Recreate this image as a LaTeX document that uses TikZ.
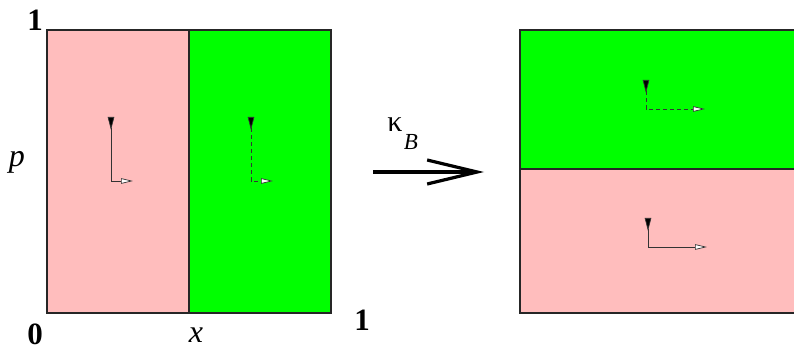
\documentclass[tikz,border=0pt]{standalone}
\usepackage{fontspec}
\setmainfont{Liberation Serif}
\usetikzlibrary{arrows.meta}
\definecolor{pinkA}{RGB}{255,189,189}
\definecolor{greenA}{RGB}{0,255,0}
\tikzset{
  region/.style={draw=black!85, line width=1.3pt},
  frame/.style={line width=0.7pt, black!80,
    {Triangle[reversed,length=13pt,width=6.5pt,fill=black]}-{Triangle[length=12pt,width=5.5pt,fill=white]}},
  dashframe/.style={frame, dash pattern=on 4pt off 3pt},
  lbl/.style={font=\fontsize{31}{31}\selectfont\bfseries, inner sep=0pt},
  ilbl/.style={font=\fontsize{32}{32}\selectfont\itshape, inner sep=0pt},
  bigarrow/.style={line width=3.5pt, -{Straight Barb[length=50pt,width=24pt,line width=3.2pt]}}
}
\begin{document}
\begin{tikzpicture}[x=1pt,y=-1pt]
\useasboundingbox (0,0) rectangle (794,352);
% left square
\fill[pinkA] (47,30) rectangle (189,313);
\fill[greenA] (189,30) rectangle (331,313);
\draw[region] (47,30) rectangle (331,313);
\draw[region] (189,30) -- (189,313);
% right rectangle (cut by the border)
\fill[greenA] (520,30) rectangle (794,169);
\fill[pinkA] (520,169) rectangle (794,313);
\draw[region] (794,30) -- (520,30) -- (520,313) -- (794,313);
\draw[region] (520,169) -- (794,169);
% frames
\coordinate (a1) at (111,117); \coordinate (a2) at (111,181); \coordinate (a3) at (133,181);
\draw[frame] (a1) -- (a2) -- (a3);
\coordinate (b1) at (251,117); \coordinate (b2) at (251,181); \coordinate (b3) at (273,181);
\draw[dashframe] (b1) -- (b2) -- (b3);
\coordinate (c1) at (646,80); \coordinate (c2) at (646,109); \coordinate (c3) at (705,109);
\draw[dashframe] (c1) -- (c2) -- (c3);
\coordinate (d1) at (648,218); \coordinate (d2) at (648,247); \coordinate (d3) at (707,247);
\draw[frame] (d1) -- (d2) -- (d3);
% labels
\node[lbl] (one1) at (35,20) {1};
\node[lbl] (zero) at (35,334) {0};
\node[lbl] (one2) at (362,320) {1};
\node[ilbl] (p) at (17,162) {p};
\node[ilbl] (x) at (196,335) {x};
% map arrow
\coordinate (m1) at (373,172); \coordinate (m2) at (484,172);
\draw[bigarrow] (m1) -- (m2);
\node[font=\fontsize{30}{30}\selectfont, inner sep=0pt] (kappa) at (395,125) {κ};
\node[font=\fontsize{23}{23}\selectfont\itshape, inner sep=0pt] (B) at (411,142) {B};
\end{tikzpicture}
\end{document}
